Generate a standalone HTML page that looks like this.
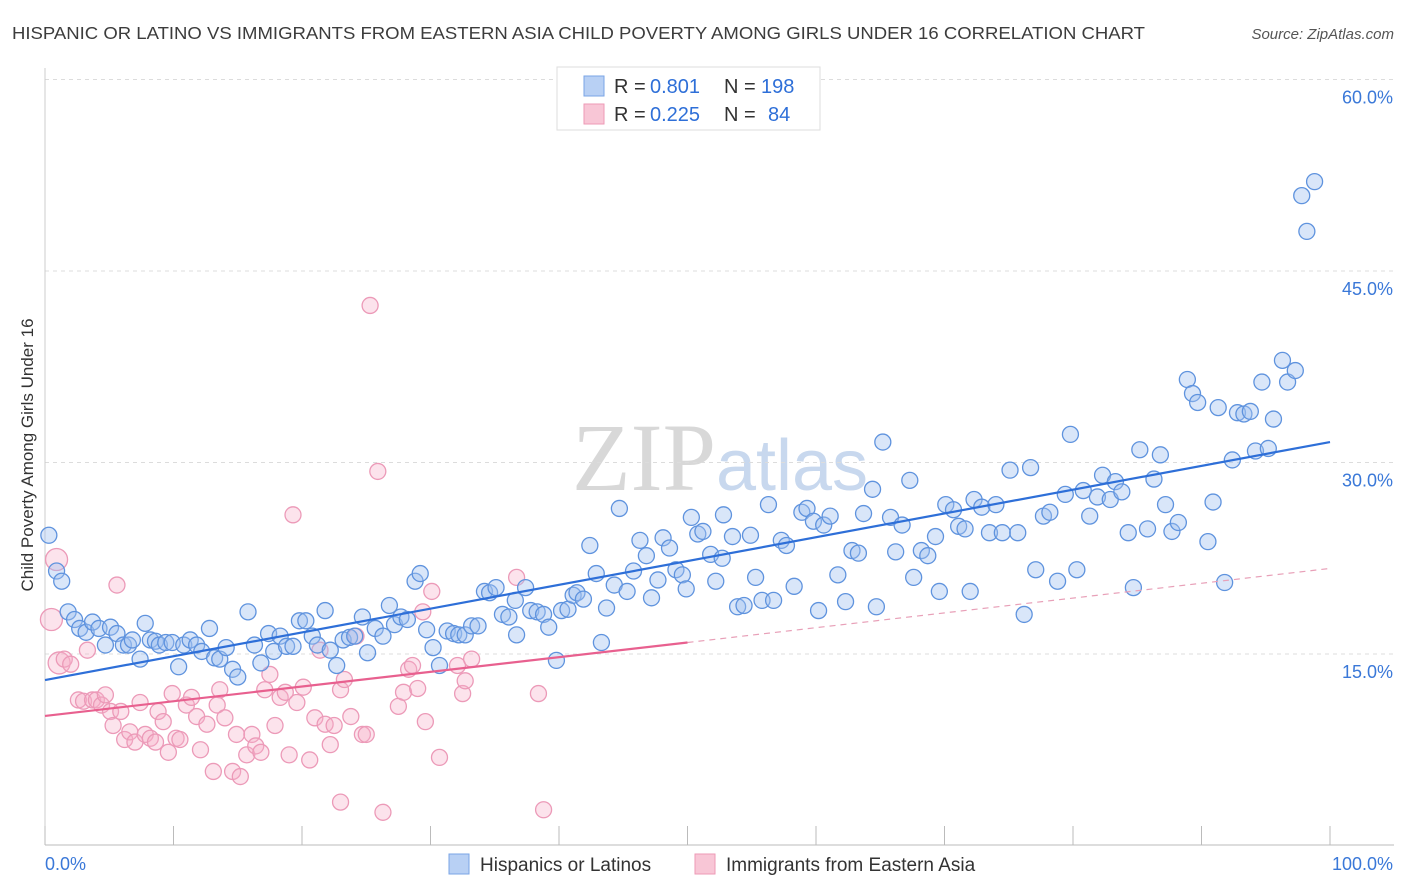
<!DOCTYPE html>
<html><head><meta charset="utf-8">
<style>
body{margin:0;background:#fff;font-family:"Liberation Sans",sans-serif;}
svg{display:block}
</style></head>
<body>
<svg id="chart" width="1406" height="892" xmlns="http://www.w3.org/2000/svg">
<text x="12" y="39" font-size="17.5" fill="#3c3c3c" textLength="1133" lengthAdjust="spacingAndGlyphs">HISPANIC OR LATINO VS IMMIGRANTS FROM EASTERN ASIA CHILD POVERTY AMONG GIRLS UNDER 16 CORRELATION CHART</text>
<text x="1394" y="39" font-size="15" fill="#555" font-style="italic" text-anchor="end">Source: ZipAtlas.com</text>
<text x="720" y="490" font-size="96" fill="#d8d8d8" text-anchor="middle" font-family="Liberation Serif,serif">ZIP<tspan fill="#c8d8ee" font-family="Liberation Sans,sans-serif" font-size="72">atlas</tspan></text>
<g id="grid"></g>
<g id="axes"></g>
<g id="pts"></g>
<g id="trends"></g>
<text x="33" y="455" font-size="17" fill="#333" text-anchor="middle" transform="rotate(-90 33 455)">Child Poverty Among Girls Under 16</text>
<g>
<rect x="557" y="67" width="263" height="63" fill="#fff" stroke="#ddd"/>
<rect x="584" y="76" width="20" height="20" fill="#b8d0f4" stroke="#7aa4e6"/>
<rect x="584" y="104" width="20" height="20" fill="#f8c6d6" stroke="#ee9ab6"/>
<g font-size="20">
<text x="614" y="93" fill="#333">R =</text><text x="650" y="93" fill="#2e6fd8">0.801</text>
<text x="724" y="93" fill="#333">N =</text><text x="761" y="93" fill="#2e6fd8">198</text></g>
<g font-size="20">
<text x="614" y="121" fill="#333">R =</text><text x="650" y="121" fill="#2e6fd8">0.225</text>
<text x="724" y="121" fill="#333">N =</text><text x="768" y="121" fill="#2e6fd8">84</text></g>
</g>
<g>
<rect x="449" y="854" width="20" height="20" fill="#b8d0f4" stroke="#7aa4e6"/>
<text x="480" y="871" font-size="19" fill="#333">Hispanics or Latinos</text>
<rect x="695" y="854" width="20" height="20" fill="#f8c6d6" stroke="#ee9ab6"/>
<text x="726" y="871" font-size="19" fill="#333">Immigrants from Eastern Asia</text>
</g>
</svg>
<script>
const blueX=[0.3,0.9,1.3,1.8,2.3,2.7,3.2,3.7,4.2,4.7,5.1,5.6,6.1,6.5,6.8,7.4,7.8,8.2,8.6,8.9,9.4,9.9,10.4,10.8,11.3,11.8,12.2,12.8,13.2,13.6,14.1,14.6,15.0,15.8,16.3,16.8,17.4,17.8,18.3,18.8,19.3,19.8,20.3,20.8,21.2,21.8,22.2,22.7,23.2,23.7,24.1,24.7,25.1,25.7,26.3,26.8,27.2,27.7,28.2,28.8,29.2,29.7,30.2,30.7,31.3,31.8,32.2,32.7,33.2,33.7,34.2,34.6,35.1,35.6,36.1,36.6,36.7,37.4,37.8,38.3,38.8,39.2,39.8,40.2,40.7,41.1,41.4,41.9,42.4,42.9,43.3,43.7,44.3,44.7,45.3,45.8,46.3,46.8,47.2,47.7,48.1,48.6,49.1,49.6,49.9,50.3,50.8,51.2,51.8,52.2,52.7,52.8,53.5,53.9,54.4,54.9,55.3,55.8,56.3,56.7,57.3,57.7,58.3,58.9,59.3,59.8,60.2,60.6,61.1,61.7,62.3,62.8,63.3,63.7,64.4,64.7,65.2,65.8,66.2,66.7,67.3,67.6,68.2,68.7,69.3,69.6,70.1,70.7,71.1,71.6,72.0,72.3,72.9,73.5,74.0,74.5,75.1,75.7,76.2,76.7,77.1,77.7,78.2,78.8,79.4,79.8,80.3,80.8,81.3,81.9,82.3,82.9,83.3,83.8,84.3,84.7,85.2,85.8,86.3,86.8,87.2,87.7,88.2,88.9,89.3,89.7,90.5,90.9,91.3,91.8,92.4,92.8,93.3,93.8,94.2,94.7,95.2,95.6,96.3,96.7,97.3,97.8,98.2,98.8];
const blueY=[24.3,21.5,20.7,18.3,17.7,17.0,16.7,17.5,17.0,15.7,17.1,16.6,15.7,15.7,16.1,14.6,17.4,16.1,16.0,15.7,15.9,15.9,14.0,15.7,16.1,15.7,15.2,17.0,14.7,14.6,15.5,13.8,13.2,18.3,15.7,14.3,16.6,15.2,16.4,15.6,15.6,17.6,17.6,16.4,15.7,18.4,15.3,14.1,16.1,16.3,16.4,17.9,15.1,17.0,16.4,18.8,17.3,17.9,17.7,20.7,21.3,16.9,15.5,14.1,16.8,16.6,16.5,16.5,17.2,17.2,19.9,19.8,20.2,18.1,17.9,19.2,16.5,20.2,18.4,18.3,18.1,17.1,14.5,18.4,18.5,19.6,19.8,19.3,23.5,21.3,15.9,18.6,20.4,26.4,19.9,21.5,23.9,22.7,19.4,20.8,24.1,23.3,21.6,21.2,20.1,25.7,24.4,24.6,22.8,20.7,22.5,25.9,24.2,18.7,18.8,24.3,21.0,19.2,26.7,19.2,23.9,23.5,20.3,26.1,26.4,25.4,18.4,25.1,25.8,21.2,19.1,23.1,22.9,26.0,27.9,18.7,31.6,25.7,23.0,25.1,28.6,21.0,23.1,22.7,24.2,19.9,26.7,26.3,25.0,24.8,19.9,27.1,26.5,24.5,26.7,24.5,29.4,24.5,18.1,29.6,21.6,25.8,26.1,20.7,27.5,32.2,21.6,27.8,25.8,27.3,29.0,27.1,28.5,27.7,24.5,20.2,31.0,24.8,28.7,30.6,26.7,24.6,25.3,36.5,35.4,34.7,23.8,26.9,34.3,20.6,30.2,33.9,33.8,34.0,30.9,36.3,31.1,33.4,38.0,36.3,37.2,50.9,48.1,52.0];
const pinkX=[0.5,0.9,1.1,1.5,2.0,2.6,3.0,3.3,3.7,4.0,4.4,4.7,5.1,5.3,5.6,5.9,6.2,6.6,7.0,7.4,7.8,8.2,8.6,8.8,9.2,9.6,9.9,10.2,10.5,11.0,11.4,11.8,12.1,12.6,13.1,13.4,13.6,14.0,14.6,14.9,15.2,15.7,16.1,16.4,16.8,17.1,17.5,17.9,18.3,18.7,19.0,19.3,19.6,20.1,20.6,21.0,21.4,21.8,22.2,22.5,23.0,23.0,23.3,23.8,24.2,24.7,25.0,25.3,25.9,26.3,27.5,27.9,28.3,28.6,29.0,29.4,29.6,30.1,30.7,32.1,32.5,32.7,33.2,36.7,38.4,38.8];
const pinkY=[17.7,22.4,14.3,14.6,14.2,11.4,11.3,15.3,11.4,11.4,11.0,11.8,10.5,9.4,20.4,10.5,8.3,8.9,8.1,11.2,8.7,8.4,8.1,10.5,9.7,7.3,11.9,8.4,8.3,11.0,11.6,10.1,7.5,9.5,5.8,11.0,12.2,10.0,5.8,8.7,5.4,7.1,8.7,7.8,7.3,12.2,13.4,9.4,11.6,12.0,7.1,25.9,11.2,12.4,6.7,10.0,15.3,9.5,7.9,9.4,12.2,3.4,13.0,10.1,16.4,8.7,8.7,42.3,29.3,2.6,10.9,12.0,13.8,14.1,12.3,18.3,9.7,19.9,6.9,14.1,11.9,12.9,14.6,21.0,11.9,2.8];
const yTicks=[15,30,45,60];
const xTicks=[0,10,20,30,40,50,60,70,80,90,100];
const blueTrend=[[0,12.96],[100,31.6]];
const pinkTrend=[[0,10.15],[50,15.9],[100,21.7]];

const NS="http://www.w3.org/2000/svg";
const sx=v=>45+v*12.85;
const sy=v=>845.5-v*12.767;
function mk(tag,attrs,parent){const e=document.createElementNS(NS,tag);for(const k in attrs)e.setAttribute(k,attrs[k]);parent.appendChild(e);return e;}
const grid=document.getElementById('grid'),axes=document.getElementById('axes'),pts=document.getElementById('pts'),tr=document.getElementById('trends');
yTicks.forEach(t=>{
  const l=mk('line',{x1:45,x2:1394,y1:sy(t),y2:sy(t),stroke:'#dcdcdc','stroke-dasharray':'4,4'},grid);
  
  
  const tx=mk('text',{x:1393,y:sy(t)+24,'font-size':18,fill:'#3a78d8','text-anchor':'end'},axes);
  tx.textContent=t.toFixed(1)+'%';
  
  
});
const ax=mk('line',{x1:45,x2:1394,y1:845,y2:845,stroke:'#bbb'},axes);


const ay=mk('line',{x1:45,x2:45,y1:68,y2:845,stroke:'#ccc'},axes);


xTicks.forEach(t=>{
  const l=mk('line',{x1:sx(t),x2:sx(t),y1:826,y2:845,stroke:'#bbb'},axes);
  
  
});
const xl0=mk('text',{x:45,y:870,'font-size':18,fill:'#3a78d8'},axes);xl0.textContent='0.0%';


const xl1=mk('text',{x:1393,y:870,'font-size':18,fill:'#3a78d8','text-anchor':'end'},axes);xl1.textContent='100.0%';



pinkX.forEach((x,i)=>{
  const big=x<1.5;
  const c=mk('circle',{cx:sx(x),cy:sy(pinkY[i]),r:big?11:8,fill:'rgba(246,176,200,0.35)',stroke:'#ec9ab8','stroke-width':1.3},pts);
  
  
});
blueX.forEach((x,i)=>{
  const c=mk('circle',{cx:sx(x),cy:sy(blueY[i]),r:8,fill:'rgba(160,192,240,0.4)',stroke:'#5f93de','stroke-width':1.3},pts);
  
  
});
const bt=mk('line',{x1:sx(blueTrend[0][0]),y1:sy(blueTrend[0][1]),x2:sx(blueTrend[1][0]),y2:sy(blueTrend[1][1]),stroke:'#2e6fd8','stroke-width':2.2},tr);


const pt=mk('line',{x1:sx(pinkTrend[0][0]),y1:sy(pinkTrend[0][1]),x2:sx(pinkTrend[1][0]),y2:sy(pinkTrend[1][1]),stroke:'#e8608f','stroke-width':2.2},tr);


const pd=mk('line',{x1:sx(pinkTrend[1][0]),y1:sy(pinkTrend[1][1]),x2:sx(pinkTrend[2][0]),y2:sy(pinkTrend[2][1]),stroke:'#e8a0b8','stroke-width':1.2,'stroke-dasharray':'6,5'},tr);


</script>
</body></html>
